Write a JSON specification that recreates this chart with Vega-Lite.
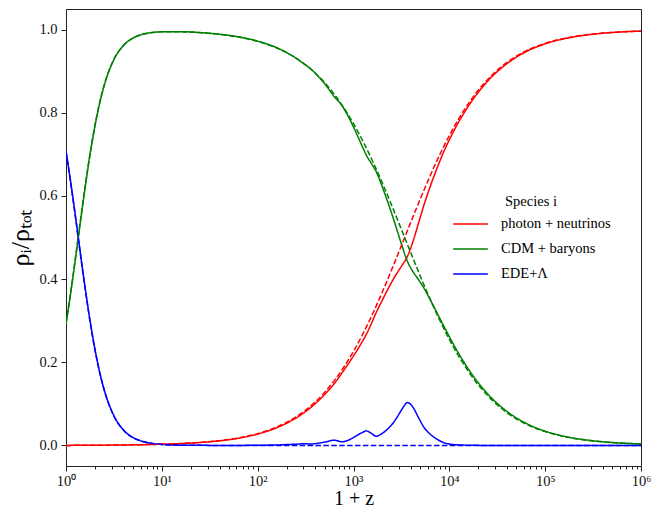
{
"$schema": "https://vega.github.io/schema/vega-lite/v6.json",
"width": 575, "height": 457,
"autosize": "none",
"padding": {"left": 66, "top": 9, "right": 24, "bottom": 45},
"background": "white",
"config": {
  "view": {"stroke": "#222", "strokeWidth": 1},
  "font": "Liberation Serif",
  "axis": {"grid": false, "domainColor": "#222", "tickColor": "#222", "labelColor": "#111", "titleColor": "#000", "labelFont": "Liberation Serif", "titleFont": "Liberation Serif", "labelFontSize": 14.5, "titleFontWeight": "normal", "tickSize": 5, "labelPadding": 4, "labelFlush": false, "labelOverlap": false}
},
"data": {"values": [
{"model":"EDE","u":1,"r":0.0001,"g":0.2915,"b":0.7084},
{"model":"EDE","u":1.122,"r":0.0001,"g":0.3676,"b":0.6323},
{"model":"EDE","u":1.2589,"r":0.0002,"g":0.4508,"b":0.5490},
{"model":"EDE","u":1.4125,"r":0.0002,"g":0.5369,"b":0.4629},
{"model":"EDE","u":1.5849,"r":0.0003,"g":0.6208,"b":0.3789},
{"model":"EDE","u":1.7783,"r":0.0004,"g":0.6980,"b":0.3016},
{"model":"EDE","u":1.9953,"r":0.0004,"g":0.7654,"b":0.2342},
{"model":"EDE","u":2.2387,"r":0.0005,"g":0.8216,"b":0.1779},
{"model":"EDE","u":2.5119,"r":0.0006,"g":0.8665,"b":0.1329},
{"model":"EDE","u":3.1623,"r":0.0008,"g":0.9279,"b":0.0713},
{"model":"EDE","u":3.9811,"r":0.0011,"g":0.9619,"b":0.0370},
{"model":"EDE","u":5.0119,"r":0.0014,"g":0.9797,"b":0.0189},
{"model":"EDE","u":6.3096,"r":0.0018,"g":0.9887,"b":0.0096},
{"model":"EDE","u":7.9433,"r":0.0022,"g":0.9930,"b":0.0048},
{"model":"EDE","u":10,"r":0.0028,"g":0.9948,"b":0.0024},
{"model":"EDE","u":15.849,"r":0.0044,"g":0.9950,"b":0.0006},
{"model":"EDE","u":25.119,"r":0.0070,"g":0.9928,"b":0.0002},
{"model":"EDE","u":39.811,"r":0.0111,"g":0.9889,"b":0.0000},
{"model":"EDE","u":63.096,"r":0.0174,"g":0.9826,"b":0.0000},
{"model":"EDE","u":100,"r":0.0273,"g":0.9722,"b":0.0005},
{"model":"EDE","u":158.49,"r":0.0426,"g":0.9564,"b":0.0010},
{"model":"EDE","u":199.53,"r":0.0530,"g":0.9450,"b":0.0020},
{"model":"EDE","u":251.19,"r":0.0658,"g":0.9312,"b":0.0030},
{"model":"EDE","u":295.12,"r":0.0763,"g":0.9197,"b":0.0040},
{"model":"EDE","u":354.81,"r":0.0904,"g":0.9061,"b":0.0035},
{"model":"EDE","u":446.68,"r":0.1109,"g":0.8831,"b":0.0060},
{"model":"EDE","u":524.81,"r":0.1275,"g":0.8636,"b":0.0090},
{"model":"EDE","u":630.96,"r":0.1488,"g":0.8385,"b":0.0127},
{"model":"EDE","u":758.58,"r":0.1743,"g":0.8170,"b":0.0087},
{"model":"EDE","u":891.25,"r":0.1978,"g":0.7892,"b":0.0130},
{"model":"EDE","u":1000,"r":0.2153,"g":0.7657,"b":0.0190},
{"model":"EDE","u":1122,"r":0.2336,"g":0.7404,"b":0.0260},
{"model":"EDE","u":1258.9,"r":0.2531,"g":0.7149,"b":0.0320},
{"model":"EDE","u":1361.4,"r":0.2672,"g":0.6978,"b":0.0350},
{"model":"EDE","u":1513.6,"r":0.2896,"g":0.6804,"b":0.0300},
{"model":"EDE","u":1729.8,"r":0.3201,"g":0.6579,"b":0.0220},
{"model":"EDE","u":1995.3,"r":0.3490,"g":0.6220,"b":0.0290},
{"model":"EDE","u":2238.7,"r":0.3717,"g":0.5903,"b":0.0380},
{"model":"EDE","u":2511.9,"r":0.3933,"g":0.5567,"b":0.0500},
{"model":"EDE","u":2818.4,"r":0.4130,"g":0.5210,"b":0.0660},
{"model":"EDE","u":3162.3,"r":0.4307,"g":0.4843,"b":0.0850},
{"model":"EDE","u":3672.8,"r":0.4558,"g":0.4413,"b":0.1030},
{"model":"EDE","u":4168.7,"r":0.4900,"g":0.4180,"b":0.0920},
{"model":"EDE","u":4786.3,"r":0.5359,"g":0.3981,"b":0.0660},
{"model":"EDE","u":5495.4,"r":0.5816,"g":0.3764,"b":0.0420},
{"model":"EDE","u":6309.6,"r":0.6223,"g":0.3507,"b":0.0270},
{"model":"EDE","u":7413.1,"r":0.6657,"g":0.3193,"b":0.0150},
{"model":"EDE","u":8912.5,"r":0.7105,"g":0.2835,"b":0.0060},
{"model":"EDE","u":11220,"r":0.7578,"g":0.2402,"b":0.0020},
{"model":"EDE","u":15849,"r":0.8163,"g":0.1832,"b":0.0005},
{"model":"EDE","u":25119,"r":0.8760,"g":0.1240,"b":0},
{"model":"EDE","u":39811,"r":0.9180,"g":0.0820,"b":0},
{"model":"EDE","u":63096,"r":0.9467,"g":0.0533,"b":0},
{"model":"EDE","u":100000,"r":0.9657,"g":0.0343,"b":0},
{"model":"EDE","u":158489,"r":0.9781,"g":0.0219,"b":0},
{"model":"EDE","u":251189,"r":0.9860,"g":0.0140,"b":0},
{"model":"EDE","u":398107,"r":0.9912,"g":0.0088,"b":0},
{"model":"EDE","u":630957,"r":0.9944,"g":0.0056,"b":0},
{"model":"EDE","u":1000000,"r":0.9965,"g":0.0035,"b":0},
{"model":"LCDM","u":1,"r":0.0001,"g":0.2940,"b":0.7059},
{"model":"LCDM","u":1.122,"r":0.0001,"g":0.3704,"b":0.6295},
{"model":"LCDM","u":1.2589,"r":0.0002,"g":0.4538,"b":0.5461},
{"model":"LCDM","u":1.4125,"r":0.0002,"g":0.5399,"b":0.4599},
{"model":"LCDM","u":1.5849,"r":0.0003,"g":0.6236,"b":0.3761},
{"model":"LCDM","u":1.7783,"r":0.0004,"g":0.7005,"b":0.2991},
{"model":"LCDM","u":1.9953,"r":0.0005,"g":0.7675,"b":0.2320},
{"model":"LCDM","u":2.2387,"r":0.0005,"g":0.8233,"b":0.1762},
{"model":"LCDM","u":2.5119,"r":0.0006,"g":0.8679,"b":0.1315},
{"model":"LCDM","u":3.1623,"r":0.0009,"g":0.9286,"b":0.0705},
{"model":"LCDM","u":3.9811,"r":0.0011,"g":0.9623,"b":0.0366},
{"model":"LCDM","u":5.0119,"r":0.0014,"g":0.9799,"b":0.0187},
{"model":"LCDM","u":6.3096,"r":0.0018,"g":0.9887,"b":0.0095},
{"model":"LCDM","u":7.9433,"r":0.0023,"g":0.9929,"b":0.0048},
{"model":"LCDM","u":10,"r":0.0029,"g":0.9947,"b":0.0024},
{"model":"LCDM","u":15.849,"r":0.0046,"g":0.9948,"b":0.0006},
{"model":"LCDM","u":25.119,"r":0.0073,"g":0.9926,"b":0.0002},
{"model":"LCDM","u":39.811,"r":0.0115,"g":0.9885,"b":0},
{"model":"LCDM","u":63.096,"r":0.0181,"g":0.9819,"b":0},
{"model":"LCDM","u":100,"r":0.0284,"g":0.9716,"b":0},
{"model":"LCDM","u":158.49,"r":0.0443,"g":0.9557,"b":0},
{"model":"LCDM","u":199.53,"r":0.0551,"g":0.9449,"b":0},
{"model":"LCDM","u":251.19,"r":0.0684,"g":0.9316,"b":0},
{"model":"LCDM","u":316.23,"r":0.0847,"g":0.9153,"b":0},
{"model":"LCDM","u":398.11,"r":0.1043,"g":0.8957,"b":0},
{"model":"LCDM","u":501.19,"r":0.1278,"g":0.8722,"b":0},
{"model":"LCDM","u":630.96,"r":0.1558,"g":0.8442,"b":0},
{"model":"LCDM","u":794.33,"r":0.1885,"g":0.8115,"b":0},
{"model":"LCDM","u":1000,"r":0.2263,"g":0.7737,"b":0},
{"model":"LCDM","u":1258.9,"r":0.2691,"g":0.7309,"b":0},
{"model":"LCDM","u":1584.9,"r":0.3167,"g":0.6833,"b":0},
{"model":"LCDM","u":1995.3,"r":0.3685,"g":0.6315,"b":0},
{"model":"LCDM","u":2511.9,"r":0.4235,"g":0.5765,"b":0},
{"model":"LCDM","u":3162.3,"r":0.4805,"g":0.5195,"b":0},
{"model":"LCDM","u":3981.1,"r":0.5380,"g":0.4620,"b":0},
{"model":"LCDM","u":5011.9,"r":0.5945,"g":0.4055,"b":0},
{"model":"LCDM","u":6309.6,"r":0.6486,"g":0.3514,"b":0},
{"model":"LCDM","u":7943.3,"r":0.6991,"g":0.3009,"b":0},
{"model":"LCDM","u":10000,"r":0.7452,"g":0.2548,"b":0},
{"model":"LCDM","u":15849,"r":0.8226,"g":0.1774,"b":0},
{"model":"LCDM","u":25119,"r":0.8802,"g":0.1198,"b":0},
{"model":"LCDM","u":39811,"r":0.9209,"g":0.0791,"b":0},
{"model":"LCDM","u":63096,"r":0.9486,"g":0.0514,"b":0},
{"model":"LCDM","u":100000,"r":0.9669,"g":0.0331,"b":0},
{"model":"LCDM","u":158489,"r":0.9789,"g":0.0211,"b":0},
{"model":"LCDM","u":251189,"r":0.9866,"g":0.0134,"b":0},
{"model":"LCDM","u":398107,"r":0.9915,"g":0.0085,"b":0},
{"model":"LCDM","u":630957,"r":0.9946,"g":0.0054,"b":0},
{"model":"LCDM","u":1000000,"r":0.9966,"g":0.0034,"b":0}
]},
"transform": [{"fold": ["r", "g", "b"], "as": ["species", "frac"]}],
"layer": [
  {
    "mark": {"type": "line", "strokeWidth": 1.5, "clip": true, "interpolate": "monotone"},
    "encoding": {
      "x": {"field": "u", "type": "quantitative",
        "scale": {"type": "log", "domain": [1, 1000000], "nice": false},
        "axis": {"values": [1, 10, 100, 1000, 10000, 100000, 1000000],
          "labelExpr": "'10' + ['⁰','¹','²','³','⁴','⁵','⁶'][round(log(datum.value)/LN10)]",
          "labelPadding": 3, "title": "1 + z", "titleFontSize": 20, "titlePadding": 1}},
      "y": {"field": "frac", "type": "quantitative",
        "scale": {"domain": [-0.0495, 1.0495], "nice": false, "zero": false},
        "axis": {"values": [0, 0.2, 0.4, 0.6, 0.8, 1.0], "format": ".1f",
          "title": "ρᵢ/ρₜₒₜ", "titleFontSize": 26, "titlePadding": 5}},
      "color": {"field": "species", "type": "nominal",
        "scale": {"domain": ["r", "g", "b"], "range": ["#ff0000", "#008000", "#0000ff"]},
        "legend": {"title": "Species i", "orient": "none", "legendX": 386, "legendY": 186,
          "symbolType": "stroke", "symbolSize": 1200, "symbolStrokeWidth": 1.5,
          "labelFont": "Liberation Serif", "labelFontSize": 14.5, "labelColor": "#000",
          "titleFont": "Liberation Serif", "titleFontSize": 14.5, "titleFontWeight": "normal", "titleColor": "#000",
          "titleAnchor": "middle", "titlePadding": -4, "rowPadding": -1, "labelOffset": 12, "padding": 0,
          "labelExpr": "datum.value == 'r' ? 'photon + neutrinos' : datum.value == 'g' ? 'CDM + baryons' : 'EDE+Λ'"}},
      "strokeDash": {"field": "model", "type": "nominal",
        "scale": {"domain": ["EDE", "LCDM"], "range": [[1, 0], [5.5, 2.4]]}, "legend": null}
    }
  },
  {
    "mark": {"type": "line", "opacity": 0},
    "encoding": {
      "x": {"field": "u", "type": "quantitative",
        "axis": {"orient": "bottom", "values": [2,3,4,5,6,7,8,9,20,30,40,50,60,70,80,90,200,300,400,500,600,700,800,900,2000,3000,4000,5000,6000,7000,8000,9000,20000,30000,40000,50000,60000,70000,80000,90000,200000,300000,400000,500000,600000,700000,800000,900000],
          "labels": false, "tickSize": 3, "domain": false, "title": null}},
      "y": {"field": "frac", "type": "quantitative"}
    }
  }
],
"resolve": {"axis": {"x": "independent"}}
}
